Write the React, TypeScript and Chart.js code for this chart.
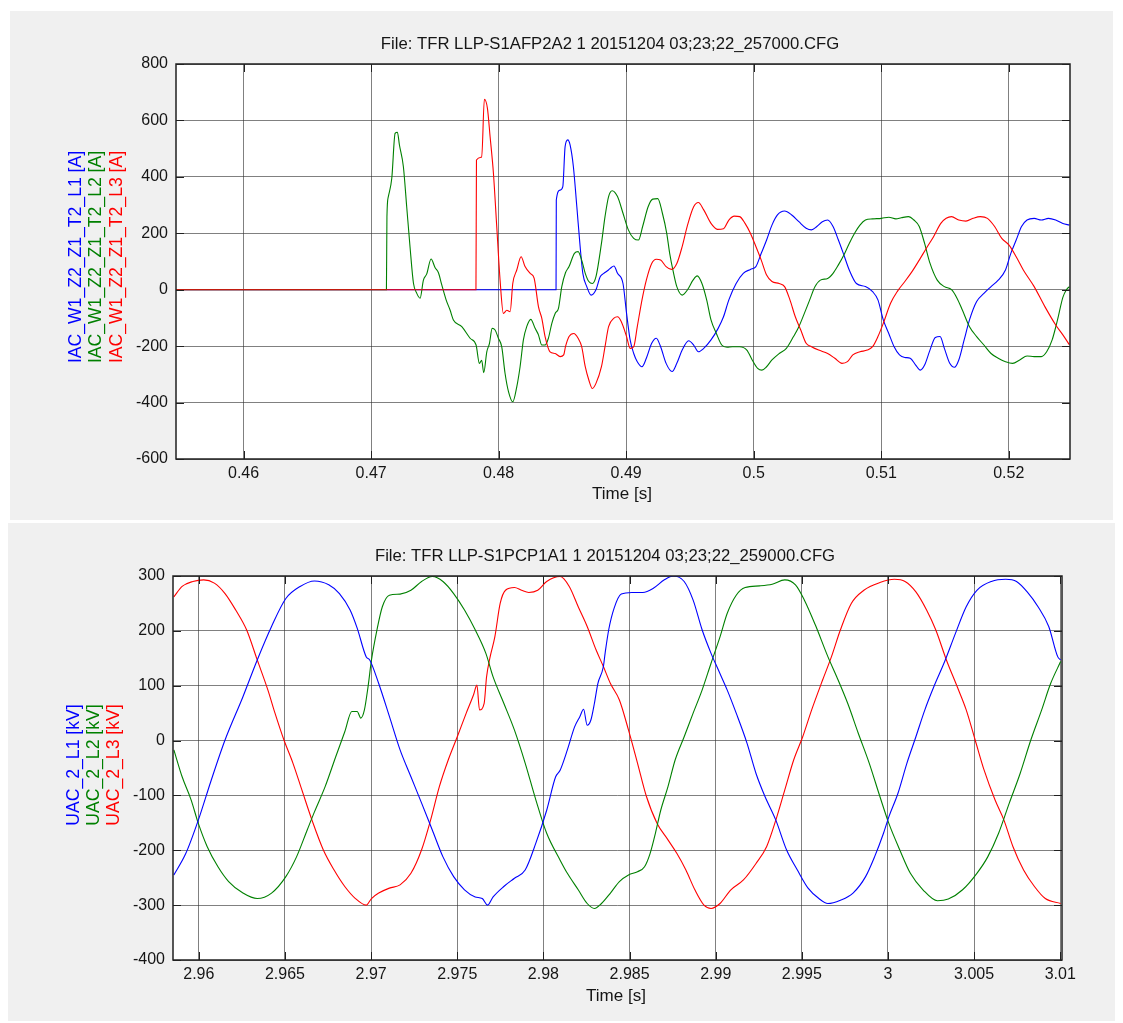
import React, { useEffect, useRef } from "react";
import { Chart, registerables } from "chart.js";

Chart.register(...registerables);

type P = [number, number];

// ---------- text ----------
const TOP_TITLE = "File: TFR LLP-S1AFP2A2 1 20151204 03;23;22_257000.CFG";
const BOTTOM_TITLE = "File: TFR LLP-S1PCP1A1 1 20151204 03;23;22_259000.CFG";
const TOP_Y_LABELS = ["IAC_W1_Z2_Z1_T2_L1 [A]", "IAC_W1_Z2_Z1_T2_L2 [A]", "IAC_W1_Z2_Z1_T2_L3 [A]"];
const BOTTOM_Y_LABELS = ["UAC_2_L1 [kV]", "UAC_2_L2 [kV]", "UAC_2_L3 [kV]"];
const X_LABEL = "Time [s]";

// ---------- axes ----------
const TOP_X_RANGE = [0.4547, 0.5248];
const TOP_Y_RANGE = [-600, 800];
const TOP_X_TICKS = [0.46, 0.47, 0.48, 0.49, 0.5, 0.51, 0.52];
const TOP_X_TICK_LABELS = ["0.46", "0.47", "0.48", "0.49", "0.5", "0.51", "0.52"];
const TOP_Y_TICKS = [-600, -400, -200, 0, 200, 400, 600, 800];

const BOTTOM_X_RANGE = [2.9585, 3.0101];
const BOTTOM_Y_RANGE = [-400, 300];
const BOTTOM_X_TICKS = [2.96, 2.965, 2.97, 2.975, 2.98, 2.985, 2.99, 2.995, 3, 3.005, 3.01];
const BOTTOM_X_TICK_LABELS = ["2.96", "2.965", "2.97", "2.975", "2.98", "2.985", "2.99", "2.995", "3", "3.005", "3.01"];
const BOTTOM_Y_TICKS = [-400, -300, -200, -100, 0, 100, 200, 300];

const SERIES_COLORS = ["#0000ff", "#008000", "#ff0000"];

// ---------- top chart: currents [A] ----------
const IAC_L1: P[] = [
  [0.4547, 0], [0.4845, 0], [0.48452, 318], [0.48482, 353], [0.48503, 365], [0.48521, 507], [0.48542, 531],
  [0.4856, 513], [0.48586, 436], [0.48613, 294], [0.48639, 152], [0.4866, 58], [0.48691, 11], [0.48725, -19],
  [0.48764, 1], [0.48796, 46], [0.48822, 57], [0.48861, 70], [0.48876, 76], [0.48904, 84], [0.48932, 58],
  [0.48975, 22], [0.49003, -84], [0.49031, -178], [0.49059, -226], [0.49087, -255], [0.49124, -273],
  [0.49158, -243], [0.492, -190], [0.49236, -172], [0.4927, -202], [0.49313, -261], [0.4936, -290],
  [0.49397, -261], [0.49439, -214], [0.4949, -181], [0.49529, -196], [0.49566, -220], [0.49608, -208],
  [0.49665, -178], [0.49721, -137], [0.49763, -96], [0.49805, -36], [0.49862, 22], [0.49918, 58],
  [0.49974, 72], [0.50017, 82], [0.50059, 129], [0.50101, 176], [0.50143, 229], [0.50186, 265],
  [0.50242, 279], [0.50298, 265], [0.50354, 241], [0.50411, 218], [0.50453, 212], [0.50495, 224],
  [0.50538, 241], [0.5058, 247], [0.50622, 224], [0.50664, 176], [0.50707, 123], [0.50749, 70],
  [0.50805, 22], [0.50876, 11], [0.50932, -7], [0.50974, -36], [0.51016, -107], [0.51059, -155],
  [0.51101, -202], [0.51143, -231], [0.51185, -240], [0.51227, -243], [0.5127, -267], [0.51306, -285],
  [0.5134, -267], [0.51382, -214], [0.51424, -169], [0.51461, -166], [0.51495, -208], [0.51537, -261],
  [0.51574, -275], [0.51608, -249], [0.5165, -178], [0.51692, -107], [0.51748, -42], [0.51805, -13],
  [0.51861, 11], [0.51917, 34], [0.51974, 70], [0.52016, 129], [0.52058, 176], [0.521, 224], [0.52143, 247],
  [0.52199, 253], [0.52255, 247], [0.52311, 253], [0.52368, 247], [0.52424, 235], [0.52475, 229],
];

const IAC_L2: P[] = [
  [0.4547, 0], [0.4712, 0], [0.47124, 259], [0.47135, 330], [0.47162, 395], [0.47188, 554], [0.47206, 558],
  [0.47222, 513], [0.47253, 436], [0.47279, 294], [0.47305, 152], [0.47332, 23], [0.47358, -13],
  [0.47384, -30], [0.4741, 34], [0.47436, 56], [0.4747, 109], [0.47501, 79], [0.47528, 60], [0.47554, 17],
  [0.47588, -36], [0.47619, -72], [0.47645, -107], [0.47711, -131], [0.47776, -172], [0.47823, -196],
  [0.47849, -261], [0.47867, -250], [0.47883, -294], [0.47907, -220], [0.47928, -190], [0.47949, -137],
  [0.47972, -143], [0.47998, -172], [0.48024, -202], [0.4805, -296], [0.48077, -361], [0.48111, -397],
  [0.48142, -344], [0.48168, -273], [0.48194, -178], [0.4822, -131], [0.48252, -105], [0.48286, -137],
  [0.48312, -160], [0.48338, -196], [0.48364, -196], [0.4839, -172], [0.48417, -119], [0.48443, -84],
  [0.48469, -66], [0.48495, 11], [0.48524, 60], [0.48552, 82], [0.48594, 129], [0.48623, 135],
  [0.48651, 105], [0.48679, 58], [0.48707, 29], [0.48735, 22], [0.48763, 46], [0.48806, 164],
  [0.48834, 259], [0.48862, 330], [0.4889, 351], [0.48932, 330], [0.48975, 271], [0.49017, 212],
  [0.49059, 182], [0.49096, 176], [0.49129, 224], [0.49172, 294], [0.49208, 321], [0.49248, 323],
  [0.49284, 271], [0.49318, 200], [0.49341, 129], [0.49369, 64], [0.49397, 11], [0.49439, -19],
  [0.49481, 0], [0.49524, 34], [0.49557, 49], [0.49594, 22], [0.49631, -36], [0.49665, -107],
  [0.49707, -155], [0.49749, -196], [0.49791, -204], [0.49833, -202], [0.4989, -202], [0.49946, -214],
  [0.49988, -249], [0.50031, -279], [0.50064, -285], [0.50101, -273], [0.50143, -249], [0.502, -226],
  [0.50256, -208], [0.50312, -166], [0.50354, -131], [0.50397, -84], [0.50439, -36], [0.50481, 11],
  [0.50523, 34], [0.5058, 40], [0.50622, 58], [0.50664, 88], [0.50707, 123], [0.50749, 164], [0.50791, 200],
  [0.50833, 229], [0.50876, 247], [0.50932, 251], [0.51002, 253], [0.51059, 257], [0.51115, 251],
  [0.51157, 255], [0.51213, 259], [0.51256, 247], [0.51298, 224], [0.5134, 164], [0.51382, 94],
  [0.51439, 34], [0.51495, 11], [0.51551, 0], [0.51594, -30], [0.51636, -72], [0.51692, -131],
  [0.51748, -166], [0.51805, -196], [0.51861, -226], [0.51917, -243], [0.51974, -255], [0.5203, -261],
  [0.52086, -249], [0.52143, -235], [0.52199, -237], [0.52255, -237], [0.52297, -220], [0.5234, -178],
  [0.52382, -107], [0.52424, -27], [0.52452, 0], [0.52475, 11],
];

const IAC_L3: P[] = [
  [0.4547, 0], [0.47822, 0], [0.47826, 460], [0.47867, 470], [0.47888, 675], [0.47912, 643], [0.47933, 542],
  [0.47959, 413], [0.47985, 224], [0.48011, 35], [0.48037, -84], [0.48064, -73], [0.4809, -78],
  [0.48111, 23], [0.48142, 70], [0.48176, 117], [0.48207, 82], [0.48247, 58], [0.48278, 41], [0.48312, -60],
  [0.48338, -101], [0.48364, -166], [0.48403, -220], [0.48443, -226], [0.48482, -237], [0.4851, -231],
  [0.48524, -202], [0.48552, -166], [0.48589, -155], [0.48623, -172], [0.48651, -202], [0.48679, -273],
  [0.48707, -320], [0.48735, -350], [0.48763, -332], [0.48806, -273], [0.48834, -202], [0.48862, -131],
  [0.48904, -101], [0.48932, -96], [0.48961, -113], [0.49003, -166], [0.49031, -208], [0.49059, -202],
  [0.49087, -131], [0.49124, -36], [0.49158, 34], [0.492, 93], [0.49236, 108], [0.4927, 105], [0.49313, 82],
  [0.49355, 72], [0.49397, 93], [0.49439, 153], [0.49481, 229], [0.49529, 294], [0.49566, 309],
  [0.49608, 283], [0.49665, 235], [0.49715, 214], [0.49763, 216], [0.49805, 247], [0.49848, 261],
  [0.4989, 259], [0.49932, 235], [0.49974, 200], [0.50017, 153], [0.50059, 105], [0.50101, 52],
  [0.50143, 29], [0.502, 22], [0.50242, 11], [0.50284, -36], [0.50326, -96], [0.50369, -143],
  [0.50411, -190], [0.50453, -202], [0.50509, -214], [0.5058, -226], [0.50636, -243], [0.50692, -261],
  [0.50735, -255], [0.50777, -231], [0.50833, -220], [0.5089, -214], [0.50932, -202], [0.50974, -166],
  [0.51016, -119], [0.51073, -48], [0.51129, -4], [0.51185, 29], [0.51241, 64], [0.51298, 105],
  [0.51354, 147], [0.5141, 188], [0.51467, 235], [0.51509, 253], [0.51551, 259], [0.51608, 247],
  [0.51664, 243], [0.5172, 253], [0.51777, 259], [0.51833, 253], [0.51889, 224], [0.51945, 182],
  [0.52002, 158], [0.52058, 117], [0.52114, 70], [0.52199, 11], [0.52283, -60], [0.52368, -125],
  [0.52424, -160], [0.52475, -195],
];

// ---------- bottom chart: voltages [kV] ----------
const UAC_L1: P[] = [
  [2.95855, -245], [2.95924, -206], [2.95997, -145], [2.96069, -75], [2.96152, 1], [2.96256, 80],
  [2.96339, 147], [2.96422, 208], [2.96505, 259], [2.96588, 281], [2.96671, 291], [2.96754, 284],
  [2.96816, 268], [2.96878, 238], [2.96919, 205], [2.96971, 153], [2.96992, 147], [2.97044, 104],
  [2.97106, 44], [2.97168, -17], [2.97231, -66], [2.97293, -114], [2.97355, -163], [2.97417, -212],
  [2.97479, -248], [2.97542, -272], [2.97604, -285], [2.97645, -288], [2.97676, -300], [2.97708, -285],
  [2.9777, -266], [2.97832, -251], [2.97894, -236], [2.97956, -187], [2.98019, -127], [2.98071, -66],
  [2.98097, -54], [2.98139, -17], [2.98181, 25], [2.98212, 44], [2.98233, 57], [2.98254, 28], [2.98275, 37],
  [2.98296, 68], [2.98316, 104], [2.98348, 135], [2.98358, 159], [2.98379, 202], [2.9841, 241],
  [2.98452, 267], [2.98514, 270], [2.98577, 270], [2.9864, 278], [2.98702, 293], [2.98754, 300],
  [2.98817, 290], [2.98869, 256], [2.98921, 202], [2.98973, 159], [2.99015, 129], [2.99067, 92],
  [2.99119, 50], [2.99182, -5], [2.99234, -60], [2.99286, -102], [2.99349, -145], [2.99411, -199],
  [2.99474, -236], [2.99536, -269], [2.99599, -288], [2.99651, -297], [2.99724, -291], [2.99797, -278],
  [2.9987, -248], [2.99922, -212], [2.99974, -169], [3.00005, -139], [3.00058, -96], [3.0011, -41],
  [3.00162, 7], [3.00214, 56], [3.00266, 98], [3.00329, 144], [3.00391, 195], [3.00454, 244],
  [3.00516, 274], [3.006, 290], [3.00683, 294], [3.00746, 290], [3.00808, 271], [3.00871, 244],
  [3.00933, 208], [3.00985, 153], [3.01002, 147],
];

const UAC_L2: P[] = [
  [2.95855, -17], [2.95903, -66], [2.95955, -108], [2.95997, -151], [2.96048, -193], [2.96111, -230],
  [2.96173, -257], [2.96256, -278], [2.96339, -288], [2.96422, -278], [2.96505, -248], [2.96567, -212],
  [2.96629, -163], [2.96671, -130], [2.96733, -84], [2.96795, -29], [2.96847, 16], [2.96888, 53],
  [2.96919, 53], [2.9694, 41], [2.96961, 56], [2.96982, 98], [2.97002, 147], [2.97034, 202], [2.97065, 244],
  [2.97106, 265], [2.97168, 267], [2.97231, 274], [2.97293, 290], [2.97355, 299], [2.97417, 290],
  [2.97479, 268], [2.97542, 238], [2.97604, 202], [2.97666, 159], [2.97708, 116], [2.9777, 68],
  [2.97832, 19], [2.97894, -41], [2.97956, -108], [2.98019, -169], [2.98097, -218], [2.98139, -242],
  [2.98202, -272], [2.98254, -297], [2.98296, -306], [2.98337, -297], [2.98389, -278], [2.98441, -257],
  [2.98494, -245], [2.98546, -239], [2.98587, -230], [2.98619, -206], [2.9865, -169], [2.98681, -127],
  [2.98723, -84], [2.98765, -35], [2.98817, 7], [2.98869, 50], [2.98921, 92], [2.98973, 141], [2.99025, 189],
  [2.99067, 232], [2.99119, 265], [2.99171, 279], [2.99255, 282], [2.99328, 285], [2.99401, 293],
  [2.99463, 284], [2.99515, 256], [2.99578, 211], [2.99651, 153], [2.99703, 116], [2.99766, 68],
  [2.99828, 13], [2.99891, -41], [2.99953, -102], [3.00005, -151], [3.00068, -199], [3.0013, -242],
  [3.00203, -272], [3.00287, -292], [3.0035, -289], [3.00433, -272], [3.00516, -242], [3.00579, -212],
  [3.00642, -169], [3.00704, -114], [3.00767, -60], [3.00829, 1], [3.00892, 56], [3.00944, 104],
  [3.01002, 144],
];

const UAC_L3: P[] = [
  [2.95855, 262], [2.95903, 281], [2.95965, 290], [2.96028, 293], [2.9609, 287], [2.96152, 268],
  [2.96214, 238], [2.96277, 202], [2.96339, 147], [2.96401, 92], [2.96442, 50], [2.96494, 1], [2.96546, -41],
  [2.96598, -90], [2.9666, -148], [2.96722, -199], [2.96785, -236], [2.96847, -266], [2.96909, -288],
  [2.96971, -300], [2.97002, -288], [2.97044, -278], [2.97106, -269], [2.97168, -263], [2.97231, -242],
  [2.97293, -199], [2.97345, -145], [2.97396, -84], [2.97448, -35], [2.975, 7], [2.97552, 50], [2.97594, 83],
  [2.97614, 101], [2.97629, 56], [2.97656, 68], [2.9767, 116], [2.97691, 153], [2.97718, 189], [2.97749, 250],
  [2.9778, 274], [2.97832, 279], [2.97873, 274], [2.97915, 270], [2.97967, 274], [2.98019, 290],
  [2.98097, 299], [2.9815, 281], [2.98202, 244], [2.98254, 208], [2.98306, 165], [2.98348, 135],
  [2.98389, 104], [2.98441, 74], [2.98494, 19], [2.98546, -41], [2.98598, -102], [2.9866, -151],
  [2.98723, -181], [2.98775, -206], [2.98827, -236], [2.98879, -272], [2.98932, -300], [2.98973, -306],
  [2.99025, -297], [2.99088, -272], [2.99161, -254], [2.99234, -224], [2.99296, -193], [2.99349, -145],
  [2.99401, -90], [2.99453, -35], [2.99505, 7], [2.99557, 56], [2.9962, 110], [2.99672, 153], [2.99724, 202],
  [2.99787, 250], [2.9986, 274], [2.99953, 288], [3.00037, 294], [3.00099, 290], [3.00162, 271],
  [3.00224, 238], [3.00277, 202], [3.00339, 147], [3.00402, 98], [3.00454, 56], [3.00506, 1],
  [3.00558, -54], [3.00621, -108], [3.00673, -145], [3.00725, -193], [3.00787, -236], [3.0085, -266],
  [3.00913, -288], [3.01002, -297],
];

// ---------- layout (not data) ----------
const FONT = '"Liberation Sans", Arial, Helvetica, sans-serif';
const TEXT_COLOR = "#151515";
const GRID_COLOR = "rgba(50,50,50,0.62)";
const FRAME_COLOR = "#202020";
const TICK_LEN = 8;

interface Spec {
  width: number;
  height: number;
  area: { left: number; top: number; right: number; bottom: number };
  xRange: number[];
  yRange: number[];
  xTicks: number[];
  xTickLabels: string[];
  yTicks: number[];
  series: P[][];
  orders: number[];
  title: string;
  titlePos: [number, number];
  xLabelPos: [number, number];
  yLabels: string[];
  yLabelXs: number[];
  yLabelY: number;
}

function framePlugin(spec: Spec) {
  return {
    id: "matlabFrame",
    beforeDraw(chart: any) {
      const { ctx, chartArea: a } = chart;
      ctx.save();
      ctx.fillStyle = "#ffffff";
      ctx.fillRect(a.left, a.top, a.right - a.left, a.bottom - a.top);
      ctx.restore();
    },
    afterDraw(chart: any) {
      const { ctx, chartArea: a, scales } = chart;
      ctx.save();
      ctx.strokeStyle = FRAME_COLOR;
      ctx.lineWidth = 1;
      ctx.beginPath();
      for (const v of spec.xTicks) {
        const x = Math.round(scales.x.getPixelForValue(v)) + 0.5;
        ctx.moveTo(x, a.bottom);
        ctx.lineTo(x, a.bottom - TICK_LEN);
        ctx.moveTo(x, a.top);
        ctx.lineTo(x, a.top + TICK_LEN);
      }
      for (const v of spec.yTicks) {
        const y = Math.round(scales.y.getPixelForValue(v)) + 0.5;
        ctx.moveTo(a.left, y);
        ctx.lineTo(a.left + TICK_LEN, y);
        ctx.moveTo(a.right, y);
        ctx.lineTo(a.right - TICK_LEN, y);
      }
      ctx.stroke();
      ctx.lineWidth = 1.5;
      ctx.strokeRect(a.left, a.top, a.right - a.left, a.bottom - a.top);

      ctx.fillStyle = TEXT_COLOR;
      ctx.textAlign = "center";
      ctx.textBaseline = "middle";
      ctx.font = `16.7px ${FONT}`;
      ctx.fillText(spec.title, spec.titlePos[0], spec.titlePos[1]);
      ctx.font = `17px ${FONT}`;
      ctx.fillText(X_LABEL, spec.xLabelPos[0], spec.xLabelPos[1]);

      ctx.font = `17.6px ${FONT}`;
      spec.yLabels.forEach((t, i) => {
        ctx.save();
        ctx.translate(spec.yLabelXs[i], spec.yLabelY);
        ctx.rotate(-Math.PI / 2);
        ctx.fillStyle = SERIES_COLORS[i];
        ctx.fillText(t, 0, 0);
        ctx.restore();
      });
      ctx.restore();
    },
  };
}

function makeConfig(spec: Spec): any {
  const tickFont = { family: FONT, size: 16 };
  return {
    type: "line",
    data: {
      datasets: spec.series.map((s, i) => ({
        label: spec.yLabels[i],
        data: s,
        borderColor: SERIES_COLORS[i],
        backgroundColor: SERIES_COLORS[i],
        borderWidth: 1.1,
        pointRadius: 0,
        fill: false,
        cubicInterpolationMode: "monotone",
        order: spec.orders[i],
      })),
    },
    options: {
      animation: false,
      responsive: false,
      maintainAspectRatio: false,
      events: [],
      layout: {
        padding: { left: 0, top: spec.area.top, right: spec.width - spec.area.right, bottom: 0 },
      },
      plugins: {
        legend: { display: false },
        tooltip: { enabled: false },
        title: { display: false },
      },
      scales: {
        x: {
          type: "linear",
          min: spec.xRange[0],
          max: spec.xRange[1],
          afterBuildTicks: (s: any) => {
            s.ticks = spec.xTicks.map((v) => ({ value: v }));
          },
          afterFit: (s: any) => {
            s.height = spec.height - spec.area.bottom;
            s.paddingLeft = 0;
            s.paddingRight = 0;
          },
          ticks: {
            autoSkip: false,
            maxRotation: 0,
            minRotation: 0,
            padding: 5,
            color: TEXT_COLOR,
            font: tickFont,
            callback: (_v: number, i: number) => spec.xTickLabels[i],
          },
          grid: { color: GRID_COLOR, lineWidth: 1, drawTicks: false },
          border: { display: false },
        },
        y: {
          type: "linear",
          min: spec.yRange[0],
          max: spec.yRange[1],
          afterBuildTicks: (s: any) => {
            s.ticks = spec.yTicks.map((v) => ({ value: v }));
          },
          afterFit: (s: any) => {
            s.width = spec.area.left;
            s.paddingTop = 0;
            s.paddingBottom = 0;
          },
          ticks: {
            autoSkip: false,
            padding: 8,
            color: TEXT_COLOR,
            font: tickFont,
            callback: (v: number) => String(v),
          },
          grid: { color: GRID_COLOR, lineWidth: 1, drawTicks: false },
          border: { display: false },
        },
      },
    },
    plugins: [framePlugin(spec)],
  };
}

const TOP_SPEC: Spec = {
  width: 1123,
  height: 520,
  area: { left: 176, top: 64, right: 1070, bottom: 459 },
  xRange: TOP_X_RANGE,
  yRange: TOP_Y_RANGE,
  xTicks: TOP_X_TICKS,
  xTickLabels: TOP_X_TICK_LABELS,
  yTicks: TOP_Y_TICKS,
  series: [IAC_L1, IAC_L2, IAC_L3],
  orders: [3, 2, 1],
  title: TOP_TITLE,
  titlePos: [610, 44],
  xLabelPos: [622, 494],
  yLabels: TOP_Y_LABELS,
  yLabelXs: [76, 96, 117],
  yLabelY: 257,
};

const BOTTOM_SPEC: Spec = {
  width: 1123,
  height: 503,
  area: { left: 173, top: 56, right: 1062, bottom: 440 },
  xRange: BOTTOM_X_RANGE,
  yRange: BOTTOM_Y_RANGE,
  xTicks: BOTTOM_X_TICKS,
  xTickLabels: BOTTOM_X_TICK_LABELS,
  yTicks: BOTTOM_Y_TICKS,
  series: [UAC_L1, UAC_L2, UAC_L3],
  orders: [1, 2, 3],
  title: BOTTOM_TITLE,
  titlePos: [605, 36],
  xLabelPos: [616, 476],
  yLabels: BOTTOM_Y_LABELS,
  yLabelXs: [74, 94, 114],
  yLabelY: 245,
};

export default function App() {
  const topRef = useRef<HTMLCanvasElement | null>(null);
  const bottomRef = useRef<HTMLCanvasElement | null>(null);

  useEffect(() => {
    const charts: Chart[] = [];
    if (topRef.current) charts.push(new Chart(topRef.current, makeConfig(TOP_SPEC)));
    if (bottomRef.current) charts.push(new Chart(bottomRef.current, makeConfig(BOTTOM_SPEC)));
    return () => charts.forEach((c) => c.destroy());
  }, []);

  return (
    <div style={{ position: "relative", width: 1123, height: 1023, background: "#ffffff", overflow: "hidden" }}>
      <style>{"html,body{margin:0;padding:0;background:#ffffff;}"}</style>
      <div style={{ position: "absolute", left: 10, top: 11, width: 1103, height: 509, background: "#f0f0f0" }} />
      <div style={{ position: "absolute", left: 8, top: 523, width: 1107, height: 498, background: "#f0f0f0" }} />
      <canvas
        ref={topRef}
        width={TOP_SPEC.width}
        height={TOP_SPEC.height}
        style={{ position: "absolute", left: 0, top: 0, width: TOP_SPEC.width, height: TOP_SPEC.height }}
      />
      <canvas
        ref={bottomRef}
        width={BOTTOM_SPEC.width}
        height={BOTTOM_SPEC.height}
        style={{ position: "absolute", left: 0, top: 520, width: BOTTOM_SPEC.width, height: BOTTOM_SPEC.height }}
      />
    </div>
  );
}
